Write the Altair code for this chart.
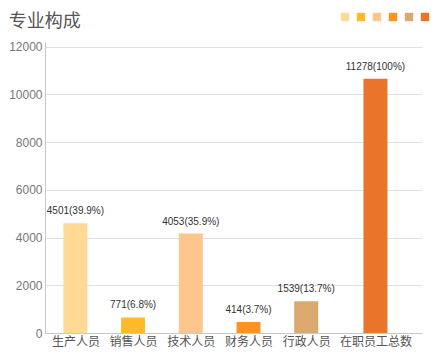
import altair as alt
import pandas as pd

categories = ["生产人员", "销售人员", "技术人员", "财务人员", "行政人员", "在职员工总数"]
bar_heights = [4600, 650, 4170, 460, 1330, 10660]
counts = [4501, 771, 4053, 414, 1539, 11278]
shares = ["39.9%", "6.8%", "35.9%", "3.7%", "13.7%", "100%"]
colors = ["#FEDA95", "#FDBA2B", "#FEC68D", "#FB9322", "#DBA86F", "#E9742A"]
y_ticks = [0, 2000, 4000, 6000, 8000, 10000, 12000]

# category slots laid out in sequence by label length (one character gap)
pos = []
cur = 0.16
for c in categories:
    pos.append(round((cur + len(c) / 2) * 10))
    cur += len(c) + 1
x_max = pos[-1] + 36

label_expr = "''"
for p, c in reversed(list(zip(pos, categories))):
    label_expr = f"datum.value == {p} ? '{c}' : ({label_expr})"

df = pd.DataFrame({
    "cat": categories,
    "pos": pos,
    "h": bar_heights,
    "label": [f"{n}({s})" for n, s in zip(counts, shares)],
})

x_enc = alt.X(
    "pos:Q",
    scale=alt.Scale(domain=[0, x_max], nice=False, zero=False),
    axis=alt.Axis(
        values=pos, labelExpr=label_expr, title=None, grid=False, ticks=False,
        domainColor="#c8c8c8", labelFont="Noto Sans CJK SC", labelFontSize=12,
        labelColor="#555555", labelPadding=3, labelOverlap=False, labelFlush=False,
    ),
)
y_enc = alt.Y(
    "h:Q",
    scale=alt.Scale(domain=[0, 12200], nice=False),
    axis=alt.Axis(
        values=y_ticks, format="d", title=None, ticks=False, gridColor="#e0e0e0",
        domainColor="#c8c8c8", labelColor="#777777", labelFontSize=12,
        labelPadding=3, labelFont="Liberation Sans",
    ),
)

base = alt.Chart(df)
bars = base.mark_bar(size=24).encode(
    x=x_enc,
    y=y_enc,
    color=alt.Color(
        "cat:N",
        scale=alt.Scale(domain=categories, range=colors),
        legend=alt.Legend(
            orient="none", legendX=295, legendY=-30, direction="horizontal",
            title=None, symbolType="square", symbolSize=70, labelExpr="''",
            labelOffset=0, columnPadding=6, symbolStrokeWidth=0, padding=0,
            symbolOpacity=1,
        ),
    ),
)
texts = base.mark_text(dy=-7, baseline="bottom", fontSize=10, color="#333333",
                       font="Liberation Sans").encode(x="pos:Q", y="h:Q", text="label:N")

chart = alt.layer(bars, texts).properties(
    width=377,
    height=291,
    title=alt.TitleParams("专业构成", anchor="start", fontSize=18, font="Noto Sans CJK SC",
                          fontWeight="normal", color="#555555", offset=-19),
    autosize=alt.AutoSizeParams(type="none"),
    padding={"left": 37, "top": 34, "right": 8, "bottom": 16},
).configure_view(stroke=None)

chart.save("out.html", embed_options={"renderer": "svg", "actions": False})
